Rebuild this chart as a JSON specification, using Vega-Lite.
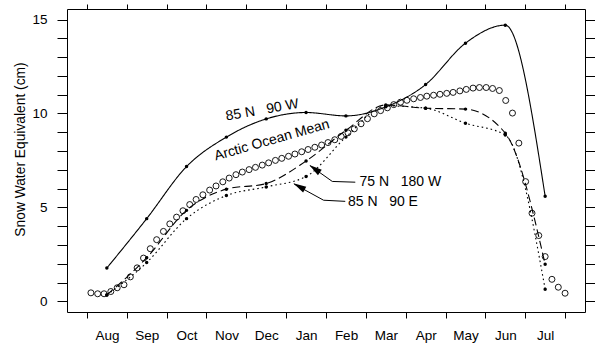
{
  "$schema": "https://vega.github.io/schema/vega-lite/v6.json",
  "width": 518,
  "height": 303,
  "autosize": {"type": "none"},
  "padding": {"left": 67, "top": 9, "right": 10, "bottom": 32},
  "background": "white",
  "config": {
    "view": {"stroke": null},
    "font": "Liberation Sans",
    "axis": {
      "grid": false,
      "domainColor": "black",
      "domainWidth": 1,
      "tickColor": "black",
      "tickWidth": 1,
      "labelColor": "black",
      "labelFont": "Liberation Sans",
      "labelFontSize": 13.5,
      "titleFont": "Liberation Sans",
      "titleColor": "black",
      "titleFontWeight": "normal",
      "titleFontSize": 13.8
    }
  },
  "datasets": {
    "sites": [
      {"site": "85 N 90 W", "m": 0.5, "swe": 1.77},
      {"site": "85 N 90 W", "m": 1.5, "swe": 4.40},
      {"site": "85 N 90 W", "m": 2.5, "swe": 7.17},
      {"site": "85 N 90 W", "m": 3.5, "swe": 8.74},
      {"site": "85 N 90 W", "m": 4.5, "swe": 9.71},
      {"site": "85 N 90 W", "m": 5.5, "swe": 10.05},
      {"site": "85 N 90 W", "m": 6.5, "swe": 9.87},
      {"site": "85 N 90 W", "m": 7.5, "swe": 10.35},
      {"site": "85 N 90 W", "m": 8.5, "swe": 11.54},
      {"site": "85 N 90 W", "m": 9.5, "swe": 13.74},
      {"site": "85 N 90 W", "m": 10.5, "swe": 14.70},
      {"site": "85 N 90 W", "m": 11.5, "swe": 5.59},
      {"site": "75 N 180 W", "m": 0.5, "swe": 0.34},
      {"site": "75 N 180 W", "m": 1.5, "swe": 2.32},
      {"site": "75 N 180 W", "m": 2.5, "swe": 4.84},
      {"site": "75 N 180 W", "m": 3.5, "swe": 5.97},
      {"site": "75 N 180 W", "m": 4.5, "swe": 6.27},
      {"site": "75 N 180 W", "m": 5.5, "swe": 7.47},
      {"site": "75 N 180 W", "m": 6.5, "swe": 9.1},
      {"site": "75 N 180 W", "m": 7.5, "swe": 10.45},
      {"site": "75 N 180 W", "m": 8.5, "swe": 10.28},
      {"site": "75 N 180 W", "m": 9.5, "swe": 10.23},
      {"site": "75 N 180 W", "m": 10.5, "swe": 8.95},
      {"site": "75 N 180 W", "m": 11.5, "swe": 1.97},
      {"site": "85 N 90 E", "m": 0.5, "swe": 0.34},
      {"site": "85 N 90 E", "m": 1.5, "swe": 2.06},
      {"site": "85 N 90 E", "m": 2.5, "swe": 4.40},
      {"site": "85 N 90 E", "m": 3.5, "swe": 5.63},
      {"site": "85 N 90 E", "m": 4.5, "swe": 6.09},
      {"site": "85 N 90 E", "m": 5.5, "swe": 6.64},
      {"site": "85 N 90 E", "m": 6.5, "swe": 8.74},
      {"site": "85 N 90 E", "m": 7.5, "swe": 10.4},
      {"site": "85 N 90 E", "m": 8.5, "swe": 10.28},
      {"site": "85 N 90 E", "m": 9.5, "swe": 9.48},
      {"site": "85 N 90 E", "m": 10.5, "swe": 8.85},
      {"site": "85 N 90 E", "m": 11.5, "swe": 0.64}
    ],
    "mean": [
      {"m": 0.10, "swe": 0.45}, {"m": 0.27, "swe": 0.40}, {"m": 0.43, "swe": 0.40},
      {"m": 0.60, "swe": 0.52}, {"m": 0.76, "swe": 0.72}, {"m": 0.93, "swe": 0.88},
      {"m": 1.09, "swe": 1.30}, {"m": 1.26, "swe": 1.78}, {"m": 1.42, "swe": 2.30},
      {"m": 1.59, "swe": 2.80}, {"m": 1.75, "swe": 3.28}, {"m": 1.92, "swe": 3.72},
      {"m": 2.08, "swe": 4.12}, {"m": 2.25, "swe": 4.48}, {"m": 2.41, "swe": 4.82},
      {"m": 2.58, "swe": 5.15}, {"m": 2.74, "swe": 5.42}, {"m": 2.91, "swe": 5.67},
      {"m": 3.08, "swe": 5.92}, {"m": 3.24, "swe": 6.14}, {"m": 3.41, "swe": 6.36},
      {"m": 3.57, "swe": 6.56}, {"m": 3.74, "swe": 6.74}, {"m": 3.90, "swe": 6.88},
      {"m": 4.07, "swe": 7.01}, {"m": 4.23, "swe": 7.13}, {"m": 4.40, "swe": 7.25},
      {"m": 4.56, "swe": 7.37}, {"m": 4.73, "swe": 7.50}, {"m": 4.89, "swe": 7.61},
      {"m": 5.06, "swe": 7.72}, {"m": 5.22, "swe": 7.84}, {"m": 5.39, "swe": 7.96},
      {"m": 5.55, "swe": 8.08}, {"m": 5.72, "swe": 8.20}, {"m": 5.89, "swe": 8.32},
      {"m": 6.05, "swe": 8.45}, {"m": 6.22, "swe": 8.60}, {"m": 6.38, "swe": 8.78},
      {"m": 6.55, "swe": 8.97}, {"m": 6.71, "swe": 9.18}, {"m": 6.88, "swe": 9.45},
      {"m": 7.04, "swe": 9.72}, {"m": 7.21, "swe": 9.98}, {"m": 7.37, "swe": 10.15},
      {"m": 7.54, "swe": 10.30}, {"m": 7.70, "swe": 10.47}, {"m": 7.87, "swe": 10.60},
      {"m": 8.03, "swe": 10.70}, {"m": 8.20, "swe": 10.78}, {"m": 8.37, "swe": 10.85},
      {"m": 8.53, "swe": 10.92}, {"m": 8.70, "swe": 10.97}, {"m": 8.86, "swe": 11.02},
      {"m": 9.03, "swe": 11.07}, {"m": 9.19, "swe": 11.12}, {"m": 9.36, "swe": 11.20},
      {"m": 9.52, "swe": 11.28}, {"m": 9.69, "swe": 11.35}, {"m": 9.85, "swe": 11.38},
      {"m": 10.02, "swe": 11.38}, {"m": 10.18, "swe": 11.33}, {"m": 10.35, "swe": 11.22},
      {"m": 10.51, "swe": 10.69}, {"m": 10.68, "swe": 10.02}, {"m": 10.84, "swe": 8.42},
      {"m": 11.01, "swe": 6.37}, {"m": 11.17, "swe": 4.69}, {"m": 11.34, "swe": 3.50},
      {"m": 11.50, "swe": 2.38}, {"m": 11.67, "swe": 1.17}, {"m": 11.83, "swe": 0.75},
      {"m": 12.00, "swe": 0.43}
    ],
    "curveLabels": [
      {"label": "85 N\u00a0\u00a0\u00a090 W", "m": 4.40, "swe": 10.17, "ang": 350},
      {"label": "Arctic Ocean Mean", "m": 4.64, "swe": 8.57, "ang": 344}
    ],
    "pointerLabels": [
      {"label": "75 N\u00a0\u00a0\u00a0180 W", "m": 6.84, "swe": 6.34},
      {"label": "85 N\u00a0\u00a0\u00a090 E", "m": 6.55, "swe": 5.27}
    ],
    "pointers": [
      {"arrow": "75 N 180 W", "ord": 0, "m": 6.735, "swe": 6.34},
      {"arrow": "75 N 180 W", "ord": 1, "m": 6.158, "swe": 6.38},
      {"arrow": "75 N 180 W", "ord": 2, "m": 5.60, "swe": 7.22},
      {"arrow": "85 N 90 E", "ord": 0, "m": 6.483, "swe": 5.32},
      {"arrow": "85 N 90 E", "ord": 1, "m": 5.94, "swe": 5.38},
      {"arrow": "85 N 90 E", "ord": 2, "m": 5.20, "swe": 6.24}
    ],
    "heads": [
      {"arrow": "75 N 180 W", "m": 5.581, "swe": 7.26, "dir": 305.7},
      {"arrow": "85 N 90 E", "m": 5.18, "swe": 6.28, "dir": 299}
    ]
  },
  "layer": [
    {
      "data": {"name": "sites"},
      "mark": {"type": "line", "interpolate": "monotone", "color": "black"},
      "encoding": {
        "x": {
          "field": "m", "type": "quantitative",
          "scale": {"domain": [-0.5, 12.5], "nice": false, "zero": false},
          "axis": {
            "orient": "bottom",
            "values": [0, 1, 2, 3, 4, 5, 6, 7, 8, 9, 10, 11, 12],
            "labelExpr": "['Aug','Sep','Oct','Nov','Dec','Jan','Feb','Mar','Apr','May','Jun','Jul',''][datum.value]",
            "labelOffset": 20,
            "labelAlign": "center",
            "labelBaseline": "top",
            "labelFlush": false,
            "labelOverlap": false,
            "tickSize": 6,
            "labelPadding": 10,
            "title": null
          }
        },
        "y": {
          "field": "swe", "type": "quantitative",
          "scale": {"domain": [-0.57, 15.56], "nice": false, "zero": false},
          "axis": {
            "orient": "left",
            "values": [0, 1, 2, 3, 4, 5, 6, 7, 8, 9, 10, 11, 12, 13, 14, 15],
            "labelExpr": "datum.value % 5 === 0 ? datum.label : ''",
            "labelOverlap": false,
            "tickSize": 10,
            "labelPadding": 10,
            "title": "Snow Water Equivalent (cm)",
            "titleAngle": 270,
            "titleX": -47,
            "titleY": 140,
            "titleAlign": "center",
            "titleBaseline": "middle"
          }
        },
        "detail": {"field": "site"},
        "strokeDash": {
          "field": "site", "type": "nominal",
          "scale": {"domain": ["85 N 90 W", "75 N 180 W", "85 N 90 E"], "range": [[1, 0], [8, 4], [1.6, 3]]},
          "legend": null
        },
        "strokeWidth": {
          "field": "site", "type": "nominal",
          "scale": {"domain": ["85 N 90 W", "75 N 180 W", "85 N 90 E"], "range": [1.1, 1.1, 1.3]},
          "legend": null
        }
      }
    },
    {
      "data": {"name": "mean"},
      "mark": {"type": "point", "shape": "circle", "filled": false, "color": "black", "strokeWidth": 0.9, "size": 36, "opacity": 1},
      "encoding": {
        "x": {
          "field": "m", "type": "quantitative",
          "scale": {"domain": [-0.5, 12.5], "nice": false, "zero": false},
          "axis": {"orient": "top", "values": [0, 1, 2, 3, 4, 5, 6, 7, 8, 9, 10, 11, 12], "labels": false, "tickSize": 5, "title": null}
        },
        "y": {
          "field": "swe", "type": "quantitative",
          "scale": {"domain": [-0.57, 15.56], "nice": false, "zero": false},
          "axis": {"orient": "right", "values": [0, 1, 2, 3, 4, 5, 6, 7, 8, 9, 10, 11, 12, 13, 14, 15], "labels": false, "tickSize": 10, "title": null}
        }
      }
    },
    {
      "data": {"name": "sites"},
      "mark": {"type": "point", "shape": "circle", "filled": true, "color": "black", "size": 12, "opacity": 1},
      "encoding": {
        "x": {"field": "m", "type": "quantitative", "scale": {"domain": [-0.5, 12.5], "nice": false, "zero": false}, "axis": null},
        "y": {"field": "swe", "type": "quantitative", "scale": {"domain": [-0.57, 15.56], "nice": false, "zero": false}, "axis": null}
      }
    },
    {
      "data": {"name": "pointers"},
      "mark": {"type": "line", "color": "black", "strokeWidth": 1},
      "encoding": {
        "x": {"field": "m", "type": "quantitative", "scale": {"domain": [-0.5, 12.5], "nice": false, "zero": false}, "axis": null},
        "y": {"field": "swe", "type": "quantitative", "scale": {"domain": [-0.57, 15.56], "nice": false, "zero": false}, "axis": null},
        "detail": {"field": "arrow"},
        "order": {"field": "ord"}
      }
    },
    {
      "data": {"name": "heads"},
      "mark": {"type": "point", "shape": "M0,0L-0.5,2L0.5,2Z", "filled": true, "color": "black", "size": 169, "opacity": 1, "strokeWidth": 0},
      "encoding": {
        "x": {"field": "m", "type": "quantitative", "scale": {"domain": [-0.5, 12.5], "nice": false, "zero": false}, "axis": null},
        "y": {"field": "swe", "type": "quantitative", "scale": {"domain": [-0.57, 15.56], "nice": false, "zero": false}, "axis": null},
        "angle": {"field": "dir", "type": "quantitative", "scale": null}
      }
    },
    {
      "data": {"name": "curveLabels"},
      "mark": {"type": "text", "font": "Liberation Sans", "fontSize": 14, "align": "center", "baseline": "middle", "color": "black"},
      "encoding": {
        "x": {"field": "m", "type": "quantitative", "scale": {"domain": [-0.5, 12.5], "nice": false, "zero": false}, "axis": null},
        "y": {"field": "swe", "type": "quantitative", "scale": {"domain": [-0.57, 15.56], "nice": false, "zero": false}, "axis": null},
        "text": {"field": "label"},
        "angle": {"field": "ang", "type": "quantitative", "scale": null}
      }
    },
    {
      "data": {"name": "pointerLabels"},
      "mark": {"type": "text", "font": "Liberation Sans", "fontSize": 14, "align": "left", "baseline": "middle", "color": "black"},
      "encoding": {
        "x": {"field": "m", "type": "quantitative", "scale": {"domain": [-0.5, 12.5], "nice": false, "zero": false}, "axis": null},
        "y": {"field": "swe", "type": "quantitative", "scale": {"domain": [-0.57, 15.56], "nice": false, "zero": false}, "axis": null},
        "text": {"field": "label"}
      }
    }
  ],
  "resolve": {"axis": {"x": "independent", "y": "independent"}}
}
